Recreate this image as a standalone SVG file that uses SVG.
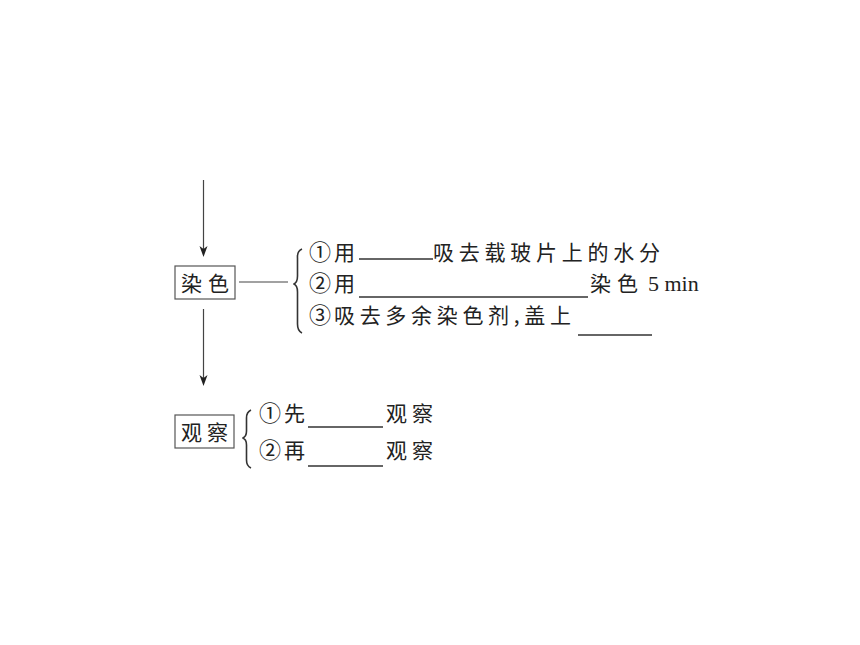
<svg xmlns="http://www.w3.org/2000/svg" width="860" height="645" viewBox="0 0 860 645">
<style>
.t{font-family:"Noto Sans CJK SC","Liberation Serif",serif;font-size:21px;fill:#222}
.c{font-family:"Noto Sans CJK SC","DejaVu Sans",sans-serif;font-size:22px;fill:#222}
.e{font-family:"Liberation Serif",serif;font-size:22px;fill:#222}
.box{fill:#fff;stroke:#555;stroke-width:1.2}
.ln{stroke:#444;stroke-width:1.2;fill:none}
.bl{stroke:#333;stroke-width:1.3}
.br{stroke:#333;stroke-width:1.6;fill:none}
.ah{fill:#222}
</style>
<rect width="860" height="645" fill="#fff"/>
<g id="connectors">
<line class="ln" x1="203.5" y1="180" x2="203.5" y2="250"/>
<path class="ah" d="M199.5,246 L203.5,249 L207.5,246 L203.5,257 Z"/>
<line class="ln" x1="203.5" y1="309" x2="203.5" y2="379"/>
<path class="ah" d="M199.5,375 L203.5,378 L207.5,375 L203.5,386 Z"/>
<line class="ln" x1="239" y1="282" x2="288" y2="282" stroke="#777"/>
</g>
<g id="node-ranse">
<rect class="box" x="175" y="266" width="60" height="33"/>
<text class="t" x="181" y="291" textLength="48" lengthAdjust="spacing">染色</text>
</g>
<g id="brace-ranse">
<path class="br" d="M302,249 Q297,251 297.5,258 L297.5,276 Q297.5,283 293.5,284 Q297.5,285 297.5,292 L297.5,324 Q297.5,331 302,333"/>
</g>
<g id="ranse-items">
<text class="c" x="309" y="260">①</text>
<text class="t" x="334" y="260">用</text>
<line class="bl" x1="359" y1="259" x2="433" y2="259"/>
<text class="t" x="433" y="260" textLength="227" lengthAdjust="spacing">吸去载玻片上的水分</text>
<text class="c" x="309" y="291">②</text>
<text class="t" x="334" y="291">用</text>
<line class="bl" x1="359" y1="297" x2="588" y2="297"/>
<text class="t" x="590" y="291" textLength="48" lengthAdjust="spacing">染色</text>
<text class="e" x="648" y="291">5 min</text>
<text class="c" x="309" y="323">③</text>
<text class="t" x="334" y="323" textLength="237" lengthAdjust="spacing">吸去多余染色剂,盖上</text>
<line class="bl" x1="578" y1="335" x2="652" y2="335"/>
</g>
<g id="node-guancha">
<rect class="box" x="175" y="415" width="59" height="33"/>
<text class="t" x="181" y="440" textLength="47" lengthAdjust="spacing">观察</text>
</g>
<g id="brace-guancha">
<path class="br" d="M251,410 Q246.5,412 246.5,418 L246.5,431 Q246.5,437 242.5,438 Q246.5,439 246.5,445 L246.5,460 Q246.5,466 251,468"/>
</g>
<g id="guancha-items">
<text class="c" x="259" y="421">①</text>
<text class="t" x="284" y="421">先</text>
<line class="bl" x1="308" y1="427" x2="383" y2="427"/>
<text class="t" x="386" y="421" textLength="47" lengthAdjust="spacing">观察</text>
<text class="c" x="259" y="458">②</text>
<text class="t" x="284" y="458">再</text>
<line class="bl" x1="308" y1="466" x2="383" y2="466"/>
<text class="t" x="386" y="458" textLength="47" lengthAdjust="spacing">观察</text>
</g>
</svg>
